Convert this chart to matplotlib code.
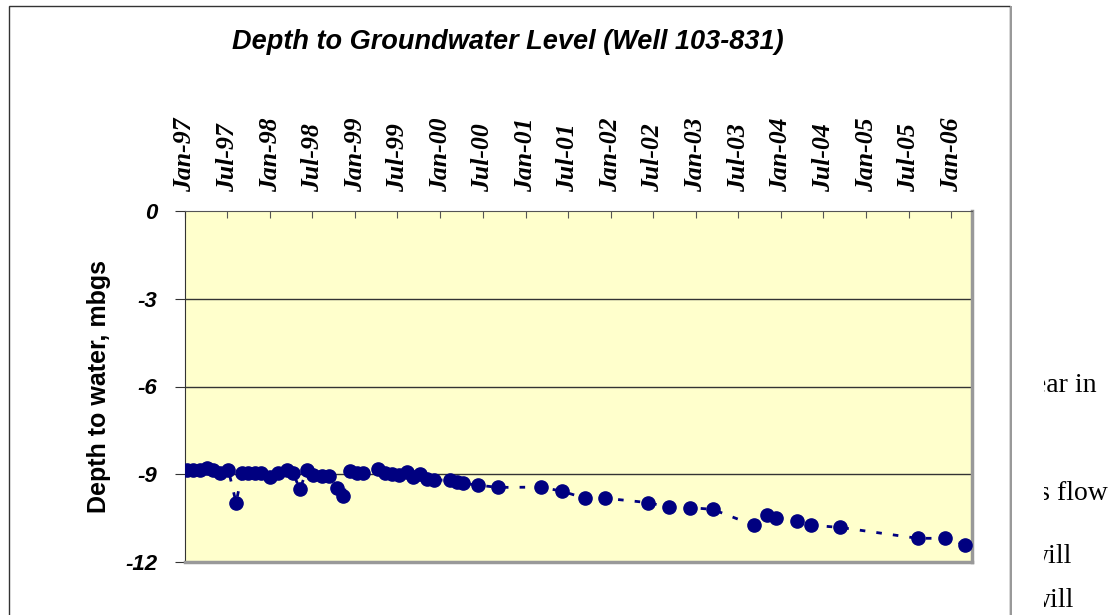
import numpy as np
import pandas as pd
import matplotlib
matplotlib.use('Agg')
import matplotlib.pyplot as plt
import matplotlib.dates as mdates
from matplotlib.patches import Rectangle

# 数据：观测日期与地下水位埋深 (mbgs)
dates = ['1997-01-08', '1997-02-05', '1997-03-06', '1997-04-04', '1997-05-02',
         '1997-05-31', '1997-07-06', '1997-08-08', '1997-09-03', '1997-09-29',
         '1997-10-28', '1997-11-25', '1997-12-31', '1998-02-05', '1998-03-13',
         '1998-04-10', '1998-05-09', '1998-06-07', '1998-07-05', '1998-08-10',
         '1998-09-10', '1998-10-13', '1998-11-10', '1998-12-09', '1999-01-07',
         '1999-02-04', '1999-04-07', '1999-05-08', '1999-06-06', '1999-07-08',
         '1999-08-09', '1999-09-07', '1999-10-05', '1999-11-03', '1999-12-05',
         '2000-02-11', '2000-03-11', '2000-04-08', '2000-06-09', '2000-09-03',
         '2001-03-09', '2001-06-05', '2001-09-13', '2001-12-08', '2002-06-10',
         '2002-09-08', '2002-12-05', '2003-03-14', '2003-09-05', '2003-11-02',
         '2003-12-11', '2004-03-09', '2004-05-09', '2004-09-12', '2005-08-09',
         '2005-12-06', '2006-03-02']
depth = [-8.85, -8.85, -8.85, -8.80, -8.85,
         -8.97, -8.85, -9.97, -8.97, -8.97,
         -8.97, -8.97, -9.10, -8.97, -8.85,
         -8.97, -9.52, -8.85, -9.03, -9.05,
         -9.05, -9.48, -9.73, -8.89, -8.97,
         -8.97, -8.82, -8.97, -8.99, -9.03,
         -8.94, -9.08, -9.00, -9.16, -9.20,
         -9.20, -9.27, -9.31, -9.37, -9.45,
         -9.44, -9.58, -9.82, -9.82, -9.97,
         -10.13, -10.14, -10.20, -10.74, -10.41,
         -10.50, -10.59, -10.74, -10.82, -11.19,
         -11.19, -11.42]
y_ticks = [0, -3, -6, -9, -12]

# 右侧被裁掉的正文片段
side_text = ['year in', 'this flow', 'will', 'will']

navy = '#000080'

fig = plt.figure(figsize=(11.15, 6.15), dpi=100)

# 图表外框
fig.patches.append(Rectangle((9 / 1115, -0.05), 1001 / 1115, 1.05 - 6 / 615,
                             transform=fig.transFigure, fill=False,
                             edgecolor='#333333', lw=1.0))
fig.patches.append(Rectangle((1010 / 1115, -0.05), 2 / 1115, 1.05 - 6 / 615,
                             transform=fig.transFigure, facecolor='#999999',
                             edgecolor='none'))

ax = fig.add_axes([185 / 1115, 1 - 562 / 615, 787 / 1115, 351 / 615])
ax.set_facecolor('#FFFFCC')

x = pd.to_datetime(dates)
ax.plot(x, depth, color=navy, lw=2, linestyle=(0, (2, 4)),
        marker='o', markersize=9.5, markeredgecolor=navy, markerfacecolor=navy, zorder=3)

ax.set_ylim(-12, 0)
ax.set_yticks(y_ticks)
ax.set_yticklabels([str(v) for v in y_ticks], fontfamily='Liberation Sans',
                   fontweight='bold', fontstyle='italic', fontsize=16)
ax.tick_params(axis='y', direction='out', length=7, pad=13, color='#333333')
for v in [-3, -6, -9]:
    ax.axhline(v, color='#333333', lw=1, zorder=1)

ax.set_xlim(pd.Timestamp('1997-01-01'), pd.Timestamp('2006-03-30'))
ax.xaxis.tick_top()
ax.xaxis.set_major_locator(mdates.MonthLocator(bymonth=[1, 7]))
ax.xaxis.set_major_formatter(mdates.DateFormatter('%b-%y'))
ax.tick_params(axis='x', direction='in', length=5, pad=14, color='#555555')
for lab in ax.get_xticklabels():
    lab.set_rotation(90)
    lab.set_fontfamily('Liberation Serif')
    lab.set_fontweight('bold')
    lab.set_fontstyle('italic')
    lab.set_fontsize(18.5)

ax.spines['left'].set_color('#333333')
ax.spines['top'].set_color('#555555')
ax.spines['right'].set_color('#999999')
ax.spines['bottom'].set_color('#999999')
ax.spines['right'].set_linewidth(2.5)
ax.spines['bottom'].set_linewidth(2.5)

ax.set_ylabel('Depth to water, mbgs', fontfamily='Liberation Sans',
              fontweight='bold', fontsize=18, labelpad=10)

fig.text(508 / 1115, 1 - 42 / 615, 'Depth to Groundwater Level (Well 103-831)',
         ha='center', va='center', fontfamily='Liberation Sans',
         fontweight='bold', fontstyle='italic', fontsize=19.5)

# 右侧正文（左边被裁掉）
tax = fig.add_axes([1044 / 1115, 0, 71 / 1115, 1])
tax.axis('off')
right_ends = [1097, 1108, 1072, 1074]
baselines = [392, 500, 563, 607]
for s, xr, yb in zip(side_text, right_ends, baselines):
    tax.text((xr - 1044) / 71, 1 - yb / 615, s, ha='right', va='baseline',
             fontfamily='Liberation Serif', fontsize=20, clip_on=True,
             transform=tax.transAxes)

fig.savefig('out.png', dpi=100)
